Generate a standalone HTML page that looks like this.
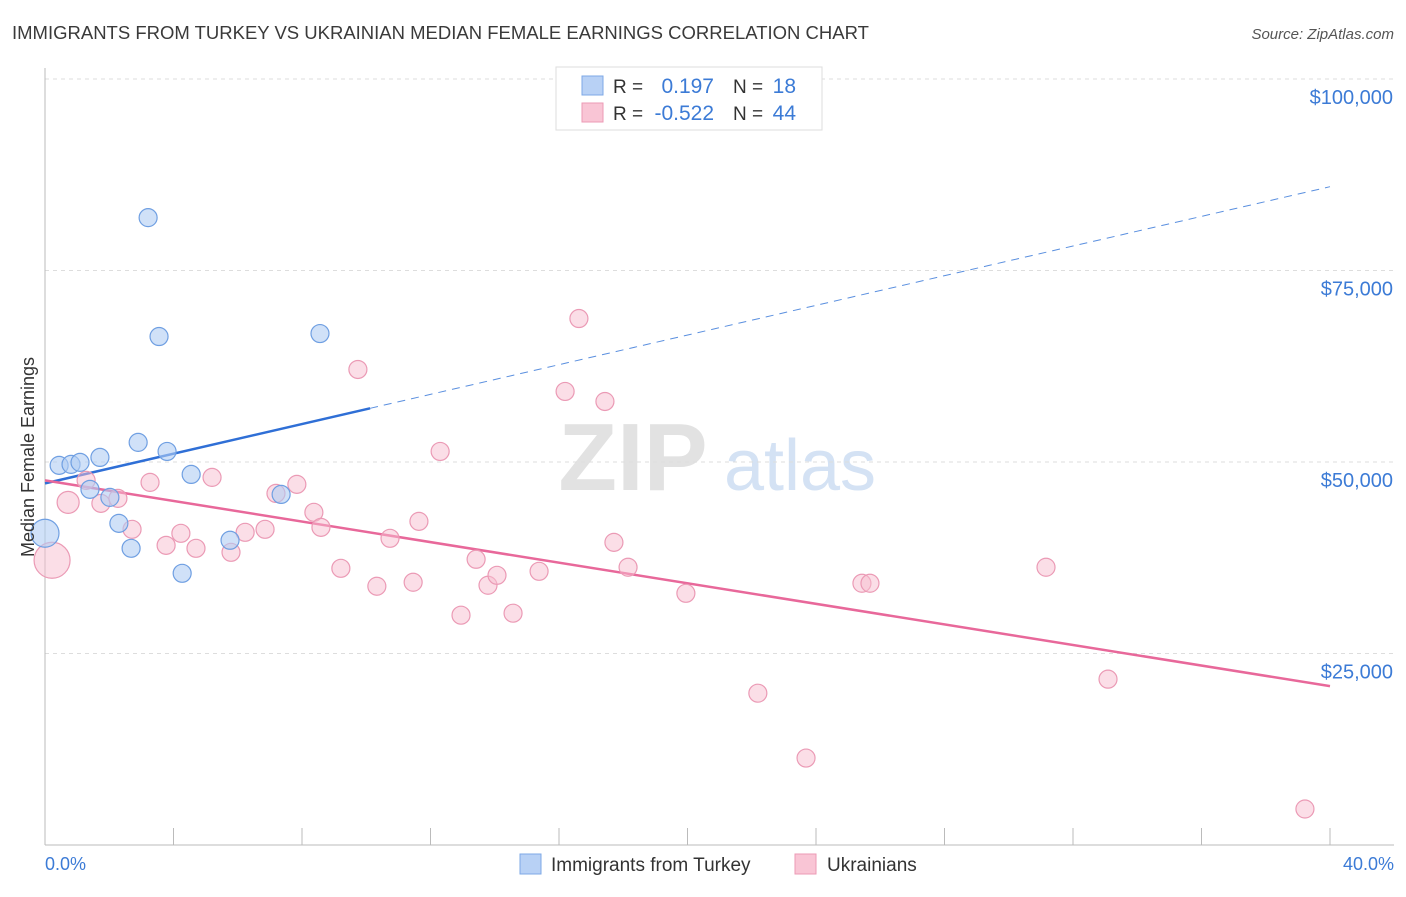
<!DOCTYPE html>
<html><head><meta charset="utf-8">
<style>
body{margin:0;background:#fff;font-family:"Liberation Sans",sans-serif;}
svg text{font-family:"Liberation Sans",sans-serif;}
</style></head>
<body>
<svg id="chart" width="1406" height="892" xmlns="http://www.w3.org/2000/svg">
<text x="12" y="39" font-size="18.5" fill="#3a3a3a">IMMIGRANTS FROM TURKEY VS UKRAINIAN MEDIAN FEMALE EARNINGS CORRELATION CHART</text>
<text x="1394" y="39" font-size="15" fill="#555" font-style="italic" text-anchor="end">Source: ZipAtlas.com</text>
<g>
<text x="633" y="490" font-size="96" fill="#e2e2e2" text-anchor="middle" font-family="Liberation Serif" font-weight="bold">ZIP</text>
<text x="800" y="490" font-size="72" fill="#d4e2f4" text-anchor="middle">atlas</text>
</g>
<g id="grid"></g>
<g id="axes"></g>
<g id="lines"></g>
<g id="points"></g>
<text transform="translate(34,457) rotate(-90)" font-size="18" fill="#333" text-anchor="middle">Median Female Earnings</text>
<text x="45" y="870" font-size="18" fill="#3c7bd6">0.0%</text>
<text x="1394" y="870" font-size="18" fill="#3c7bd6" text-anchor="end">40.0%</text>
<g>
<rect x="556" y="67" width="266" height="63" fill="#fff" stroke="#ddd"/>
<rect x="582" y="76" width="21" height="19" fill="#b8d1f5" stroke="#7ea8e6"/>
<rect x="582" y="103" width="21" height="19" fill="#f9c5d5" stroke="#ec9ab5"/>
<text x="613" y="93" font-size="19" fill="#333">R =</text>
<text x="714" y="93" font-size="21" fill="#3c7bd6" text-anchor="end">0.197</text>
<text x="733" y="93" font-size="19" fill="#333">N =</text>
<text x="796" y="93" font-size="21" fill="#3c7bd6" text-anchor="end">18</text>
<text x="613" y="120" font-size="19" fill="#333">R =</text>
<text x="714" y="120" font-size="21" fill="#3c7bd6" text-anchor="end">-0.522</text>
<text x="733" y="120" font-size="19" fill="#333">N =</text>
<text x="796" y="120" font-size="21" fill="#3c7bd6" text-anchor="end">44</text>
</g>
<g>
<rect x="520" y="854" width="21" height="20" fill="#b8d1f5" stroke="#7ea8e6"/>
<text x="551" y="871" font-size="19" fill="#333">Immigrants from Turkey</text>
<rect x="795" y="854" width="21" height="20" fill="#f9c5d5" stroke="#ec9ab5"/>
<text x="827" y="871" font-size="19" fill="#333">Ukrainians</text>
</g>
</svg>
<script>
const yTicks=[25000,50000,75000,100000];
const yTickLabels=["$25,000","$50,000","$75,000","$100,000"];
const xTicks=[0,4,8,12,16,20,24,28,32,36,40];
const turkeyX=[0.0,0.44,0.81,1.09,1.40,1.71,2.02,2.30,2.68,2.90,3.21,3.55,3.80,4.27,4.55,5.76,7.35,8.56];
const turkeyY=[40700,49560,49690,49950,46430,50600,45380,41990,38730,52560,81900,66380,51380,35470,48380,39780,45770,66770];
const turkeySize=[14,9,9,9,9,9,9,9,9,9,9,9,9,9,9,9,9,9];
const ukrX=[0.22,0.72,1.28,1.74,2.27,2.71,3.27,3.77,4.23,4.70,5.20,5.79,6.23,6.85,7.19,7.84,8.37,8.59,9.21,9.74,10.33,10.74,11.46,11.64,12.30,12.95,13.42,13.79,14.07,14.57,15.38,16.19,16.62,17.43,17.71,18.15,19.95,22.19,23.69,25.43,25.68,31.16,33.09,39.22];
const ukrY=[37170,44730,47600,44600,45250,41210,47340,39120,40690,38730,47990,38210,40820,41210,45900,47080,43430,41470,36120,62080,33780,40040,34300,42250,51380,30000,37300,33910,35210,30260,35730,59210,68730,57900,39510,36260,32860,19820,11350,34170,34170,36260,21650,4700];
const ukrSize=[18,11,9,9,9,9,9,9,9,9,9,9,9,9,9,9,9,9,9,9,9,9,9,9,9,9,9,9,9,9,9,9,9,9,9,9,9,9,9,9,9,9,9,9];
const turkeyTrend=[47210,85940];
const turkeySolidEnd=[10.12];
const ukrTrend=[47600,20740];

const NS="http://www.w3.org/2000/svg";
const X0=45,X1=1330,Y0=845,YTOP=79;
function sx(v){return X0+(v/40)*(X1-X0);}
function sy(v){return Y0-(v/100000)*(Y0-YTOP);}
function mk(tag,attrs,parent){const e=document.createElementNS(NS,tag);for(const k in attrs)e.setAttribute(k,attrs[k]);parent.appendChild(e);return e;}
const grid=document.getElementById('grid'),axes=document.getElementById('axes'),lines=document.getElementById('lines'),pts=document.getElementById('points');

yTicks.forEach((t,i)=>{
 const l=mk('line',{x1:X0,x2:1394,y1:sy(t),y2:sy(t),stroke:'#ddd','stroke-dasharray':'4,4'},grid);
 
 
 const tx=mk('text',{x:1393,y:sy(t)+25,'font-size':20,fill:'#3c7bd6','text-anchor':'end'},grid);
 tx.textContent=yTickLabels[i];
 
 
});
const yl=mk('line',{x1:X0,x2:X0,y1:68,y2:Y0,stroke:'#bbb'},axes);


const xl=mk('line',{x1:X0,x2:1394,y1:Y0,y2:Y0,stroke:'#bbb'},axes);


xTicks.forEach(t=>{
 const k=mk('line',{x1:sx(t),x2:sx(t),y1:828,y2:Y0,stroke:'#bbb'},axes);
 
 
});

function trendY(tr,x){return tr[0]+(tr[1]-tr[0])*x/40;}
const bs=mk('line',{x1:sx(0),y1:sy(trendY(turkeyTrend,0)),x2:sx(turkeySolidEnd[0]),y2:sy(trendY(turkeyTrend,turkeySolidEnd[0])),stroke:'#2f6fd6','stroke-width':2.5},lines);


const bd=mk('line',{x1:sx(turkeySolidEnd[0]),y1:sy(trendY(turkeyTrend,turkeySolidEnd[0])),x2:sx(40),y2:sy(trendY(turkeyTrend,40)),stroke:'#5a8fdf','stroke-width':1,'stroke-dasharray':'8,6'},lines);


const pl=mk('line',{x1:sx(0),y1:sy(trendY(ukrTrend,0)),x2:sx(40),y2:sy(trendY(ukrTrend,40)),stroke:'#e8689a','stroke-width':2.5},lines);



ukrX.forEach((x,i)=>{
 const c=mk('circle',{cx:sx(x),cy:sy(ukrY[i]),r:ukrSize[i],fill:'rgba(248,190,208,0.5)',stroke:'#eb9ab5','stroke-width':1.2},pts);
 
 
});
turkeyX.forEach((x,i)=>{
 const c=mk('circle',{cx:sx(x),cy:sy(turkeyY[i]),r:turkeySize[i],fill:'rgba(176,205,243,0.6)',stroke:'#6f9fe2','stroke-width':1.2},pts);
 
 
});
</script>
</body></html>
